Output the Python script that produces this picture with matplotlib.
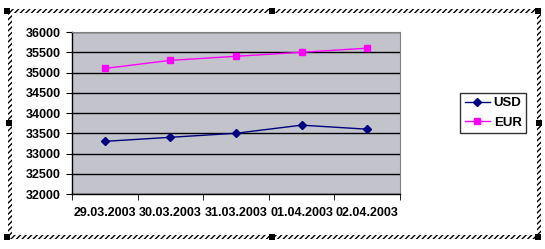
import numpy as np
import matplotlib.pyplot as plt
import matplotlib.patches as patches

dates = ["29.03.2003", "30.03.2003", "31.03.2003", "01.04.2003", "02.04.2003"]
usd = [33300, 33400, 33500, 33700, 33600]
eur = [35100, 35300, 35400, 35500, 35600]

plt.rcParams['font.family'] = ['Liberation Sans', 'DejaVu Sans']
plt.rcParams['font.weight'] = 'bold'
plt.rcParams['font.size'] = 9

fig = plt.figure(figsize=(5.45, 2.49), dpi=100)
ax = fig.add_axes([72/545, 1 - 194/249, 328/545, 162/249])
ax.set_facecolor('#c3c3cc')

x = np.arange(len(dates))
ax.plot(x, usd, color='#000080', marker='D', markersize=4.5, lw=1, label='USD')
ax.plot(x, eur, color='#ff00ff', marker='s', markersize=5, lw=1, label='EUR')

ax.set_xlim(-0.5, len(dates) - 0.5)
ax.set_ylim(32000, 36000)
ax.set_yticks(np.arange(32000, 36001, 500))
ax.yaxis.grid(True, color='black', lw=1)
ax.set_axisbelow(True)

ax.set_xticks(x)
ax.set_xticklabels(dates)
ax.set_xticks(np.arange(-0.5, len(dates), 1), minor=True)
ax.tick_params(axis='x', which='major', length=0, pad=9)
ax.tick_params(axis='x', which='minor', length=4, direction='out', color='black')
ax.tick_params(axis='y', length=4, direction='out', color='black', pad=4)

for s in ['top', 'right']:
    ax.spines[s].set_color('#808080')
    ax.spines[s].set_linewidth(0.8)
for s in ['left', 'bottom']:
    ax.spines[s].set_color('black')
    ax.spines[s].set_linewidth(1)

leg = ax.legend(loc='center left', bbox_to_anchor=((460 - 72)/328, 0.5), frameon=True,
                fancybox=False, edgecolor='black', handlelength=1.9,
                borderpad=0.35, labelspacing=0.55, handletextpad=0.3,
                borderaxespad=0, fontsize=9.5)
leg.get_frame().set_linewidth(1)

# hatched selection frame round the chart
t = 4
frame = [(5, 9, 536, t), (5, 235, 536, t), (8, 9, t, 230), (537, 9, t, 230)]
for fx, fy, fw, fh in frame:
    fig.patches.append(patches.Rectangle((fx/545, 1 - (fy + fh)/249), fw/545, fh/249,
                                         transform=fig.transFigure, facecolor='white',
                                         edgecolor='black', hatch='//////', lw=0))
for hx, hy in [(7, 11), (272, 11), (538, 11), (9, 123), (539, 123), (7, 237), (272, 237), (538, 237)]:
    fig.patches.append(patches.Rectangle(((hx - 3)/545, 1 - (hy + 3)/249), 6/545, 6/249,
                                         transform=fig.transFigure, facecolor='black',
                                         edgecolor='none'))

fig.savefig('out.png', dpi=100)
